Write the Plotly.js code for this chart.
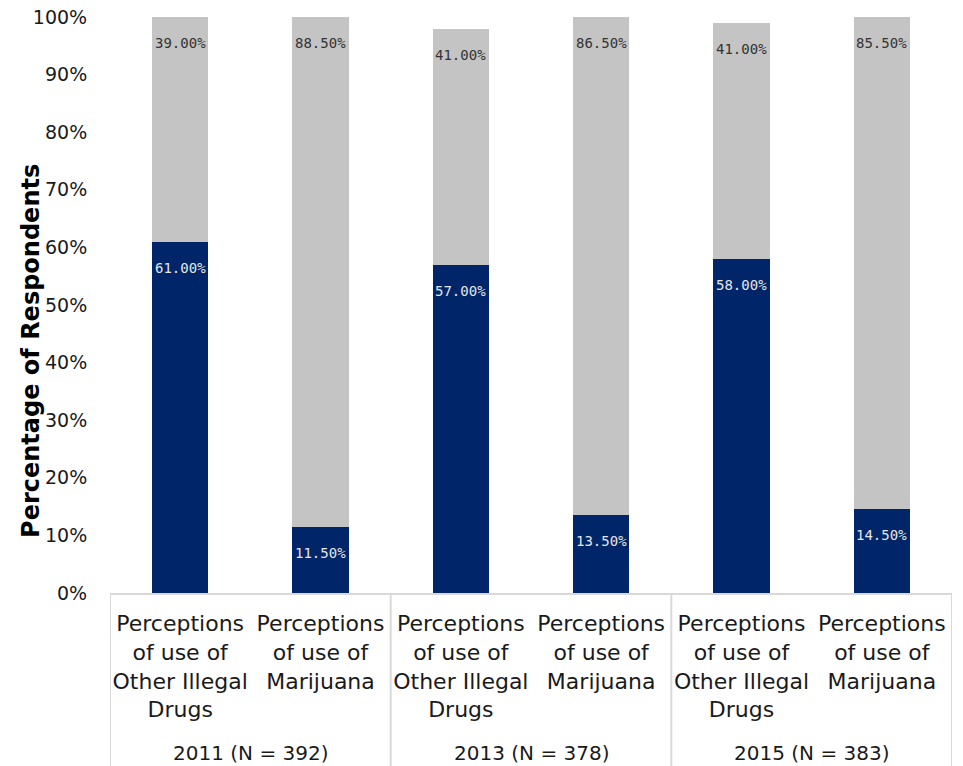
<!DOCTYPE html>
<html>
<head>
<meta charset="utf-8">
<script src="https://cdn.plot.ly/plotly-3.0.1.min.js"></script>
<style>html,body{margin:0;padding:0;background:#fff;}#chart{width:963px;height:766px;}</style>
</head>
<body>
<div id="chart"></div>
<script>
const groups = ["2011 (N = 392)", "2011 (N = 392)", "2013 (N = 378)", "2013 (N = 378)", "2015 (N = 383)", "2015 (N = 383)"];
const categories = [
  "Perceptions<br>of use of<br>Other Illegal<br>Drugs",
  "Perceptions<br>of use of<br>Marijuana<br> ",
  "Perceptions<br>of use of<br>Other Illegal<br>Drugs",
  "Perceptions<br>of use of<br>Marijuana<br> ",
  "Perceptions<br>of use of<br>Other Illegal<br>Drugs",
  "Perceptions<br>of use of<br>Marijuana<br> "
];
const blueValues = [61.0, 11.5, 57.0, 13.5, 58.0, 14.5];
const grayValues = [39.0, 88.5, 41.0, 86.5, 41.0, 85.5];
const yTickVals = [0, 10, 20, 30, 40, 50, 60, 70, 80, 90, 100];
const yTickText = ["0%", "10%", "20%", "30%", "40%", "50%", "60%", "70%", "80%", "90%", "100%"];

const xIdx = categories.map((c, i) => i);
const labelFont = {family: "DejaVu Sans Mono, Liberation Mono, monospace", size: 14};
const fmt = v => v.toFixed(2) + "%";

const traces = [
  {type: "bar", x: xIdx, y: blueValues, marker: {color: "#002569"}, width: 0.4, hoverinfo: "y"},
  {type: "bar", x: xIdx, y: grayValues, marker: {color: "#c4c4c4"}, width: 0.4, hoverinfo: "y"}
];

const annotations = [];
// data labels
xIdx.forEach(i => {
  annotations.push({x: i, y: blueValues[i], xref: "x", yref: "y", text: fmt(blueValues[i]),
    showarrow: false, yanchor: "middle", yshift: -26, font: Object.assign({color: "#e6e6e6"}, labelFont)});
  annotations.push({x: i, y: blueValues[i] + grayValues[i], xref: "x", yref: "y", text: fmt(grayValues[i]),
    showarrow: false, yanchor: "middle", yshift: -26, font: Object.assign({color: "#333333"}, labelFont)});
});
// group labels and dividers
const shapes = [];
const uniqueGroups = [];
groups.forEach((g, i) => { if (!uniqueGroups.length || uniqueGroups[uniqueGroups.length - 1].name !== g) uniqueGroups.push({name: g, start: i, end: i}); else uniqueGroups[uniqueGroups.length - 1].end = i; });
uniqueGroups.forEach((g, k) => {
  annotations.push({x: (g.start + g.end) / 2, y: -0.277, xref: "x", yref: "paper", text: g.name,
    showarrow: false, yanchor: "middle", font: {size: 20, color: "#1a1a1a", family: "DejaVu Sans, sans-serif"}});
  if (k === 0) shapes.push({type: "line", xref: "x", yref: "paper", x0: g.start - 0.5, x1: g.start - 0.5, y0: 0, y1: -0.32, line: {color: "#d9d9d9", width: 2}});
  shapes.push({type: "line", xref: "x", yref: "paper", x0: g.end + 0.5, x1: g.end + 0.5, y0: 0, y1: -0.32, line: {color: "#d9d9d9", width: 2}});
});
// y-axis title
annotations.push({x: -0.094, y: 0.42, xref: "paper", yref: "paper", text: "<b>Percentage of Respondents</b>", textangle: -90,
  showarrow: false, xanchor: "center", yanchor: "middle", font: {size: 24, color: "#000", family: "DejaVu Sans, sans-serif"}});

const layout = {
  width: 963, height: 766,
  barmode: "stack",
  showlegend: false,
  paper_bgcolor: "#ffffff", plot_bgcolor: "#ffffff",
  margin: {l: 110, r: 11, t: 17, b: 173},
  font: {family: "DejaVu Sans, sans-serif", color: "#1a1a1a"},
  xaxis: {
    range: [-0.5, 5.5],
    tickvals: xIdx, ticktext: categories,
    showline: true, linecolor: "#d9d9d9", linewidth: 2,
    ticks: "outside", ticklen: 10, tickcolor: "rgba(0,0,0,0)",
    tickfont: {size: 22, color: "#1a1a1a"},
    showgrid: false, zeroline: false
  },
  yaxis: {
    range: [0, 100],
    tickvals: yTickVals, ticktext: yTickText,
    tickfont: {size: 19, color: "#1a1a1a"},
    ticks: "outside", ticklen: 18, tickcolor: "rgba(0,0,0,0)",
    showgrid: false, zeroline: false, showline: false
  },
  annotations: annotations,
  shapes: shapes
};

Plotly.newPlot("chart", traces, layout, {displayModeBar: false, staticPlot: true});
</script>
</body>
</html>
